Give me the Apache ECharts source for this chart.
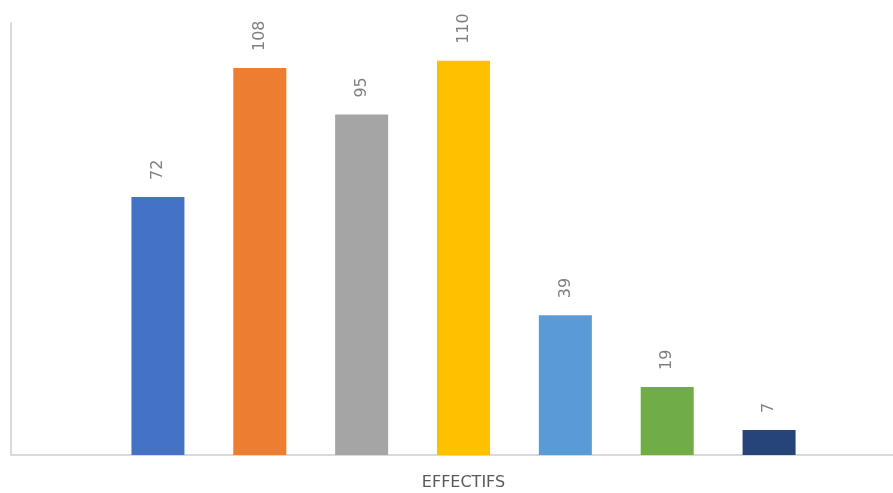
<!DOCTYPE html>
<html>
<head>
<meta charset="utf-8">
<script src="https://cdn.jsdelivr.net/npm/echarts@6/dist/echarts.min.js"></script>
<style>
  html, body { margin: 0; padding: 0; background: #fff; }
  #main { width: 893px; height: 493px; }
</style>
</head>
<body>
<div id="main"></div>
<script>
// one bar per group, no category labels shown on the axis
const categories = ['G1', 'G2', 'G3', 'G4', 'G5', 'G6', 'G7']
const effectifs = [72, 108, 95, 110, 39, 19, 7]
const barColors = ['#4472c4', '#ed7d31', '#a5a5a5', '#ffc000', '#5b9bd5', '#70ad47', '#264478']

const chart = echarts.init(document.getElementById('main'))

const option = {
  animation: false,
  grid: [
    // bars
    { left: 107, right: 73, top: 25, bottom: 38, outerBoundsMode: 'none' },
    // frame: left and bottom lines
    { left: 11, right: 0, top: 23, bottom: 38, outerBoundsMode: 'none' }
  ],
  xAxis: [
    {
      gridIndex: 0,
      type: 'category',
      data: categories,
      axisLine: { show: false },
      axisTick: { show: false },
      axisLabel: { show: false },
      name: 'EFFECTIFS',
      nameLocation: 'middle',
      nameGap: 20,
      nameTextStyle: { color: '#595959', fontSize: 16, fontFamily: 'DejaVu Sans' }
    },
    {
      gridIndex: 1,
      type: 'category',
      data: [''],
      axisLine: { show: true, lineStyle: { color: '#d9d9d9', width: 2 } },
      axisTick: { show: false },
      axisLabel: { show: false }
    }
  ],
  yAxis: [
    {
      gridIndex: 0,
      type: 'value',
      min: 0,
      max: 120,
      axisLine: { show: false },
      axisLabel: { show: false },
      splitLine: { show: false }
    },
    {
      gridIndex: 1,
      type: 'value',
      min: 0,
      max: 1,
      axisLine: { show: true, lineStyle: { color: '#d9d9d9', width: 2 } },
      axisLabel: { show: false },
      splitLine: { show: false }
    }
  ],
  series: [
    {
      type: 'bar',
      xAxisIndex: 0,
      yAxisIndex: 0,
      barWidth: 53,
      data: effectifs.map((v, i) => ({ value: v, itemStyle: { color: barColors[i] } })),
      label: {
        show: true,
        position: 'top',
        rotate: 90,
        align: 'left',
        verticalAlign: 'middle',
        distance: 17,
        color: '#7f7f7f',
        fontSize: 16,
        fontFamily: 'DejaVu Sans'
      }
    }
  ]
}

chart.setOption(option)
</script>
</body>
</html>
